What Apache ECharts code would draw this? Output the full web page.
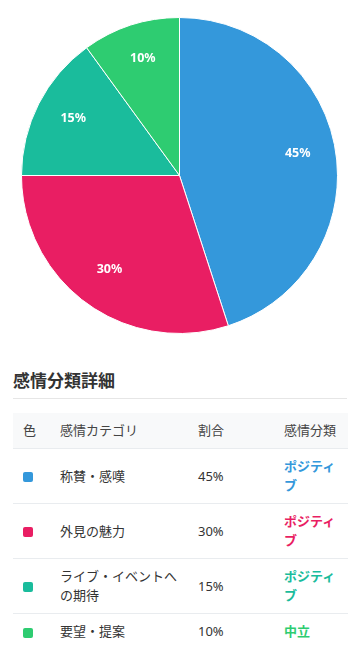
<!DOCTYPE html>
<html>
<head>
<meta charset="utf-8">
<script src="https://cdn.jsdelivr.net/npm/echarts@6/dist/echarts.min.js"></script>
<style>
  html, body { margin: 0; padding: 0; background: #ffffff; width: 363px; height: 665px; overflow: hidden; }
  body { font-family: "Noto Sans", "Noto Sans CJK JP", sans-serif; color: #333; position: relative; }
  #chart { position: absolute; left: 0; top: 0; width: 363px; height: 352px; }
  #title { position: absolute; left: 13px; top: 370px; width: 334px; height: 28px; line-height: 22px; font-size: 17px; font-weight: bold; color: #333; border-bottom: 1px solid #e6e6e6; box-sizing: content-box; }
  #tbl { position: absolute; left: 13px; top: 413px; width: 335px; border-collapse: collapse; table-layout: fixed; font-size: 13px; line-height: 19px; }
  #tbl th { background: #f8f9fa; font-weight: normal; color: #444; text-align: left; padding: 8px 10px; height: 19px; border-bottom: 1px solid #e9ecef; }
  #tbl td { padding: 8px 10px; text-align: left; vertical-align: middle; border-bottom: 1px solid #e9ecef; color: #333; }
  #tbl tr:last-child td { border-bottom: none; }
  .sw { display: inline-block; width: 10px; height: 10px; border-radius: 2px; vertical-align: middle; }
  .sent { font-weight: bold; }
</style>
</head>
<body>
<div id="chart"></div>
<div id="title">感情分類詳細</div>
<table id="tbl">
  <colgroup><col style="width:37px"><col style="width:138px"><col style="width:86px"><col style="width:74px"></colgroup>
  <thead><tr id="head"></tr></thead>
  <tbody id="body"></tbody>
</table>
<script>
const categories = ["称賛・感嘆", "外見の魅力", "ライブ・イベントへの期待", "要望・提案"];
const values = [45, 30, 15, 10];
const sentiments = ["ポジティブ", "ポジティブ", "ポジティブ", "中立"];
const headers = ["色", "感情カテゴリ", "割合", "感情分類"];
const palette = ["#3498db", "#e91e63", "#1abc9c", "#2ecc71"];

const chart = echarts.init(document.getElementById('chart'), null, { renderer: 'canvas' });
const pieData = categories.map((c, i) => ({ name: c, value: values[i] }));
chart.setOption({
  animation: false,
  color: palette,
  series: [
    {
      type: 'pie',
      center: [179.5, 175.5],
      radius: [0, 158],
      startAngle: 90,
      clockwise: true,
      data: pieData,
      itemStyle: { borderColor: '#ffffff', borderWidth: 1 },
      label: { show: false },
      labelLine: { show: false },
      emphasis: { disabled: true }
    },
    {
      type: 'pie',
      silent: true,
      center: [179.7, 172.5],
      radius: [75, 158],
      startAngle: 90,
      clockwise: true,
      data: pieData,
      itemStyle: { color: 'rgba(0,0,0,0)' },
      label: {
        show: true,
        position: 'inside',
        formatter: '{c}%',
        color: '#ffffff',
        fontWeight: 'bold',
        fontSize: 12.5,
        fontFamily: '"Noto Sans", sans-serif'
      },
      labelLine: { show: false },
      emphasis: { disabled: true }
    }
  ]
});

const head = document.getElementById('head');
headers.forEach(h => { const th = document.createElement('th'); th.textContent = h; head.appendChild(th); });
const body = document.getElementById('body');
categories.forEach((c, i) => {
  const tr = document.createElement('tr');
  const td0 = document.createElement('td');
  const sw = document.createElement('span'); sw.className = 'sw'; sw.style.background = palette[i];
  td0.appendChild(sw);
  const td1 = document.createElement('td'); td1.textContent = c;
  const td2 = document.createElement('td'); td2.textContent = values[i] + '%';
  const td3 = document.createElement('td'); td3.textContent = sentiments[i]; td3.className = 'sent'; td3.style.color = palette[i];
  [td0, td1, td2, td3].forEach(td => tr.appendChild(td));
  body.appendChild(tr);
});
</script>
</body>
</html>
